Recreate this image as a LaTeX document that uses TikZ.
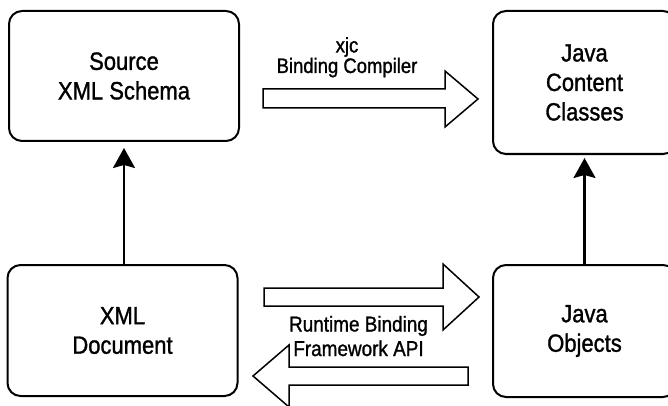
\documentclass[tikz,border=0pt]{standalone}
\usepackage{fontspec}
\setmainfont[FakeStretch=0.88, FakeBold=1.2]{Liberation Sans}
\usetikzlibrary{arrows.meta}

\tikzset{
  box/.style={draw, line width=2pt, rounded corners=13pt, align=center,
    font=\fontsize{25}{29.5}\selectfont, inner sep=0pt},
  uparrow/.style={line width=2.2pt,
    -{Stealth[length=20pt, width=22pt, inset=3pt]}},
  fatarrow/.style={draw, line width=1.5pt, fill=white, line join=miter},
  label/.style={align=center, inner sep=0pt}
}

\begin{document}
\begin{tikzpicture}[x=1pt, y=-1pt]
  \path[use as bounding box, clip] (0,0) rectangle (668,406);

  % the four boxes
  \node[box, minimum width=230pt, minimum height=130pt] (src) at (124,76)
    {Source\\XML Schema};
  \node[box, minimum width=183pt, minimum height=143pt] (jcc) at (584.5,82.5)
    {Java\\Content\\Classes};
  \node[box, minimum width=230pt, minimum height=131pt] (xml) at (122.5,330.5)
    {XML\\Document};
  \node[box, minimum width=183pt, minimum height=132pt] (jobj) at (584.5,331)
    {Java\\Objects};

  % vertical connectors
  \draw[uparrow, shorten >=6pt] (xml.north -| src.south) -- (src.south);
  \draw[uparrow, shorten >=3pt] (jobj.north) -- (jcc.south);

  % xjc block arrow
  \draw[fatarrow] (263,89) -- (445,89) -- (445,71) -- (478,99)
    -- (445,127) -- (445,108) -- (263,108) -- cycle;
  \node[label, font=\fontsize{21}{19.5}\selectfont, anchor=base]
    (xjc) at (347,73) {xjc\\Binding Compiler};

  % runtime block arrows
  \draw[fatarrow] (264,288) -- (443,288) -- (443,264) -- (479,297)
    -- (443,330) -- (443,306) -- (264,306) -- cycle;
  \draw[fatarrow] (468,367) -- (289,367) -- (289,345) -- (253,376)
    -- (289,407) -- (289,385) -- (468,385) -- cycle;
  \node[label, font=\fontsize{21.5}{24.5}\selectfont, anchor=base]
    (rt) at (358.5,356) {Runtime Binding\\Framework API};
\end{tikzpicture}
\end{document}
